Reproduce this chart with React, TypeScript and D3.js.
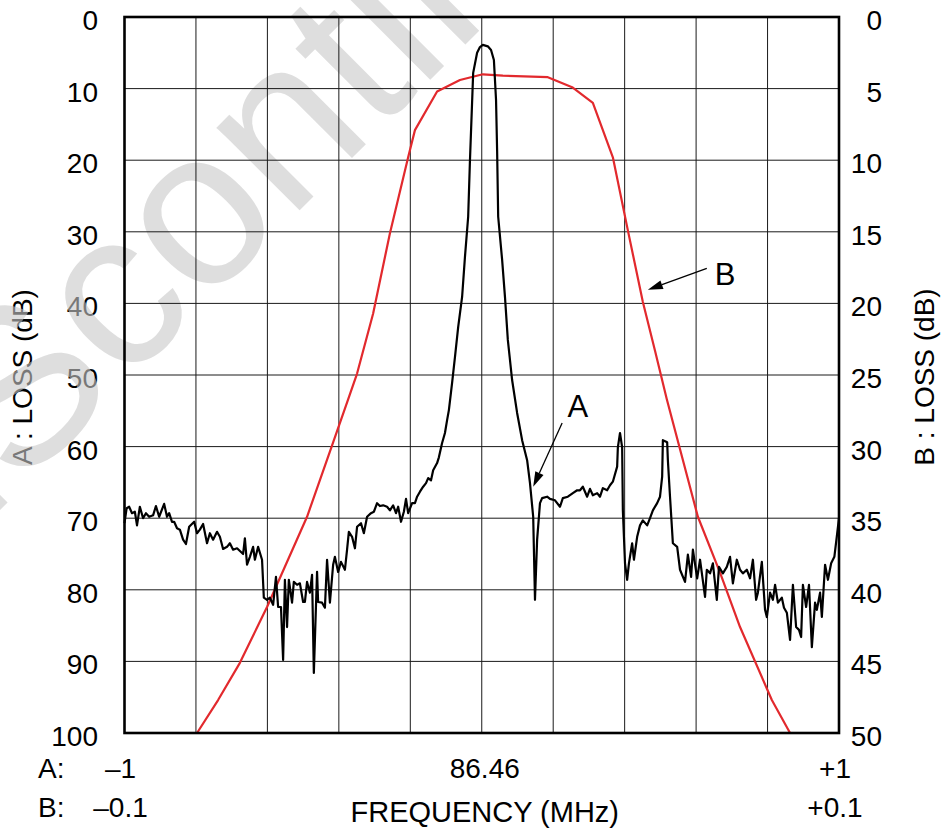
import React, { useEffect, useRef } from 'react';
import * as d3 from 'd3';

// Trace A: frequency offset from 86.46 MHz (A span ±1 MHz) and loss in dB
const freqA = [
  -1.0, -0.994, -0.987, -0.979, -0.971, -0.965, -0.957, -0.948, -0.94, -0.931,
  -0.92, -0.912, -0.903, -0.889, -0.881, -0.875, -0.867, -0.861, -0.853, -0.845,
  -0.836, -0.828, -0.819, -0.805, -0.797, -0.789, -0.78, -0.769, -0.761, -0.752,
  -0.741, -0.733, -0.724, -0.713, -0.705, -0.696, -0.685, -0.668, -0.663, -0.657,
  -0.649, -0.64, -0.635, -0.626, -0.615, -0.61, -0.601, -0.593, -0.584, -0.576,
  -0.57, -0.562, -0.556, -0.551, -0.545, -0.54, -0.531, -0.526, -0.517, -0.509,
  -0.5, -0.495, -0.489, -0.481, -0.475, -0.47, -0.461, -0.458, -0.447, -0.439,
  -0.433, -0.425, -0.416, -0.411, -0.402, -0.394, -0.383, -0.377, -0.372, -0.363,
  -0.355, -0.349, -0.338, -0.33, -0.321, -0.31, -0.302, -0.293, -0.285, -0.276,
  -0.265, -0.257, -0.248, -0.24, -0.234, -0.226, -0.218, -0.212, -0.206, -0.195,
  -0.187, -0.181, -0.173, -0.164, -0.156, -0.15, -0.142, -0.136, -0.125, -0.12,
  -0.111, -0.103, -0.097, -0.092, -0.083, -0.075, -0.066, -0.055, -0.047, -0.038,
  -0.033, -0.024, -0.013, -0.005, 0.003, 0.017, 0.026, 0.034, 0.04, 0.043,
  0.046, 0.057, 0.065, 0.073, 0.085, 0.099, 0.113, 0.127, 0.135, 0.144,
  0.149, 0.155, 0.163, 0.169, 0.183, 0.191, 0.205, 0.219, 0.227, 0.241,
  0.255, 0.267, 0.275, 0.283, 0.295, 0.303, 0.311, 0.323, 0.331, 0.339,
  0.351, 0.359, 0.367, 0.379, 0.381, 0.387, 0.393, 0.395, 0.401, 0.407,
  0.412, 0.421, 0.426, 0.435, 0.443, 0.451, 0.463, 0.471, 0.479, 0.491,
  0.499, 0.505, 0.507, 0.519, 0.521, 0.527, 0.535, 0.547, 0.555, 0.569,
  0.577, 0.586, 0.591, 0.603, 0.611, 0.625, 0.63, 0.639, 0.647, 0.658,
  0.664, 0.675, 0.686, 0.695, 0.703, 0.714, 0.723, 0.731, 0.742, 0.751,
  0.759, 0.768, 0.773, 0.784, 0.793, 0.798, 0.807, 0.815, 0.821, 0.829,
  0.84, 0.846, 0.854, 0.863, 0.871, 0.88, 0.888, 0.894, 0.899, 0.908,
  0.916, 0.924, 0.933, 0.938, 0.947, 0.952, 0.961, 0.969, 0.978, 0.987,
  0.995, 1.0,
];
const lossA = [
  70.7, 68.6, 68.4, 69.3, 69.1, 71.0, 68.4, 70.0, 69.3, 69.8,
  69.6, 68.3, 69.8, 68.0, 69.8, 69.3, 70.5, 70.5, 71.4, 71.6,
  73.0, 73.6, 71.2, 70.5, 72.1, 71.6, 70.8, 73.5, 72.1, 73.0,
  71.9, 72.6, 74.3, 74.0, 73.5, 74.4, 74.2, 75.0, 72.8, 76.5,
  75.4, 74.0, 75.8, 74.0, 75.8, 81.1, 81.4, 81.1, 82.1, 78.2,
  82.4, 82.4, 89.8, 78.6, 85.2, 78.6, 81.8, 78.9, 79.3, 79.1,
  81.7, 81.7, 78.9, 80.4, 77.9, 91.6, 77.5, 81.7, 81.8, 82.5,
  75.8, 81.8, 76.5, 75.4, 77.5, 76.1, 77.2, 74.4, 71.9, 72.6,
  74.2, 71.2, 70.7, 72.1, 69.8, 69.3, 69.1, 67.9, 68.3, 68.2,
  68.4, 68.9, 68.2, 69.3, 68.4, 70.5, 69.1, 67.3, 69.3, 67.9,
  67.9, 67.0, 66.3, 65.6, 65.1, 64.4, 64.7, 63.3, 62.3, 61.5,
  59.5, 58.1, 56.3, 54.9, 51.1, 47.5, 43.3, 39.1, 33.5, 27.9,
  20.0, 7.8, 5.0, 4.2, 3.9, 4.1, 4.6, 6.0, 11.6, 18.6,
  27.9, 33.9, 39.1, 45.1, 50.7, 55.3, 59.1, 61.9, 65.1, 69.8,
  81.4, 73.0, 67.9, 67.2, 67.0, 67.3, 67.5, 68.4, 67.2, 67.0,
  66.5, 66.1, 66.1, 65.6, 67.0, 65.9, 66.8, 66.5, 67.0, 65.8,
  66.1, 65.4, 64.9, 62.8, 60.1, 58.1, 60.1, 68.9, 76.3, 78.6,
  76.3, 73.5, 75.8, 72.6, 71.0, 70.3, 71.0, 70.0, 68.9, 67.9,
  67.0, 64.2, 59.1, 59.4, 61.9, 67.0, 73.5, 74.0, 77.2, 78.9,
  75.1, 78.2, 74.4, 78.4, 75.8, 81.0, 77.2, 77.7, 76.3, 81.4,
  76.8, 77.7, 76.8, 75.4, 79.1, 75.8, 77.2, 77.7, 77.2, 78.4,
  75.8, 81.4, 80.4, 76.1, 82.8, 83.8, 80.4, 81.4, 79.3, 81.8,
  81.1, 82.5, 83.2, 87.0, 79.3, 85.2, 85.6, 86.6, 79.3, 82.4,
  79.3, 88.0, 81.8, 82.8, 80.4, 83.8, 76.5, 78.6, 76.3, 75.4,
  72.1, 70.0,
];

// Trace B: frequency offset (B span ±0.1 MHz) and loss in dB
const freqB = [
  -0.0797, -0.0738, -0.0677, -0.0601, -0.0489, -0.0416, -0.0374, -0.0349, -0.0304, -0.0257,
  -0.0206, -0.0187, -0.0125, -0.0061, 0.0003, 0.0059, 0.0185, 0.0253, 0.0311, 0.0367,
  0.0409, 0.0451, 0.0485, 0.0518, 0.0605, 0.0667, 0.0723, 0.0812, 0.0863,
];
const lossB = [
  50.0, 47.7, 45.1, 41.2, 34.9, 29.7, 26.7, 24.9, 20.7, 15.1,
  9.8, 7.9, 5.2, 4.4, 4.0, 4.1, 4.2, 4.9, 6.0, 9.8,
  14.9, 19.9, 23.3, 26.7, 34.9, 38.8, 42.6, 47.7, 50.0,
];

const ticksA = d3.range(0, 101, 10);
const ticksB = d3.range(0, 51, 5);
const xLabelValues = [-1, 0, 1];
const xLabelsA = ['–1', '86.46', '+1'];
const xLabelsB = ['–0.1', '', '+0.1'];

const FONT = "'Liberation Sans', Arial, Helvetica, sans-serif";
const RED = '#e2292d';

const App: React.FC = () => {
  const ref = useRef<SVGSVGElement>(null);

  useEffect(() => {
    if (!ref.current) return;
    const width = 943;
    const height = 829;
    const left = 124.5, right = 839, top = 17, bottom = 733;

    const svg = d3.select(ref.current).attr('width', width).attr('height', height);
    svg.selectAll('*').remove();

    const x = d3.scaleLinear().domain([-1, 1]).range([left, right]);
    const xB = d3.scaleLinear().domain([-0.1, 0.1]).range([left, right]);
    const yA = d3.scaleLinear().domain([0, 100]).range([top, bottom]);
    const yB = d3.scaleLinear().domain([0, 50]).range([top, bottom]);

    svg.append('rect').attr('width', width).attr('height', height).attr('fill', '#fff');

    const txt = svg.append('g').attr('font-family', FONT).attr('font-size', 28).attr('fill', '#000');

    // left axis labels
    txt.selectAll('.ta').data(ticksA).join('text')
      .attr('x', 98).attr('y', d => yA(d) + 13)
      .attr('text-anchor', 'end').text(d => d);
    // right axis labels
    txt.selectAll('.tb').data(ticksB).join('text')
      .attr('x', 882).attr('y', d => yB(d) + 13)
      .attr('text-anchor', 'end').text(d => d);

    txt.append('text')
      .attr('transform', `translate(32,${(top + bottom) / 2 + 2}) rotate(-90)`)
      .attr('text-anchor', 'middle').text('A : LOSS (dB)');
    txt.append('text')
      .attr('transform', `translate(934,${(top + bottom) / 2 + 2}) rotate(-90)`)
      .attr('text-anchor', 'middle').text('B : LOSS (dB)');

    // x labels, two rows
    const nudge = [-4, 3, -4];
    txt.append('text').attr('x', 38).attr('y', 778).text('A:');
    txt.append('text').attr('x', 38).attr('y', 817).text('B:');
    txt.selectAll('.xa').data(xLabelValues).join('text')
      .attr('x', (d, i) => x(d) + nudge[i]).attr('y', 778)
      .attr('text-anchor', 'middle').text((d, i) => xLabelsA[i]);
    txt.selectAll('.xb').data(xLabelValues).join('text')
      .attr('x', (d, i) => x(d) + nudge[i]).attr('y', 817)
      .attr('text-anchor', 'middle').text((d, i) => xLabelsB[i]);
    txt.append('text').attr('x', x(0) + 3).attr('y', 822)
      .attr('text-anchor', 'middle').attr('font-size', 29).text('FREQUENCY (MHz)');

    // watermark (only "Scontin..." falls on the page), over the labels, under the grid
    svg.append('text')
      .attr('transform', 'translate(-130,640) rotate(-45)')
      .attr('font-family', FONT).attr('font-size', 222)
      .attr('fill', '#c8c8c8').attr('fill-opacity', 0.6)
      .text('DiScontinued');

    // grid
    const grid = svg.append('g').attr('stroke', '#1a1a1a').attr('stroke-width', 1);
    grid.selectAll('.gx').data(d3.range(1, 10)).join('line')
      .attr('x1', d => x(-1 + d * 0.2)).attr('x2', d => x(-1 + d * 0.2))
      .attr('y1', top).attr('y2', bottom);
    grid.selectAll('.gy').data(ticksA.slice(1, -1)).join('line')
      .attr('x1', left).attr('x2', right)
      .attr('y1', d => yA(d)).attr('y2', d => yA(d));

    // traces
    const lineB = d3.line<number>().x((d, i) => xB(freqB[i])).y(d => yB(d));
    svg.append('path').attr('d', lineB(lossB) as string)
      .attr('fill', 'none').attr('stroke', RED).attr('stroke-width', 2.2)
      .attr('stroke-linejoin', 'round');

    const lineA = d3.line<number>().x((d, i) => x(freqA[i])).y(d => yA(d));
    svg.append('path').attr('d', lineA(lossA) as string)
      .attr('fill', 'none').attr('stroke', '#000').attr('stroke-width', 2.2)
      .attr('stroke-linejoin', 'round');

    // frame
    svg.append('rect')
      .attr('x', left).attr('y', top).attr('width', right - left).attr('height', bottom - top)
      .attr('fill', 'none').attr('stroke', '#000').attr('stroke-width', 2.6);

    // annotations
    const arrow = (x1: number, y1: number, x2: number, y2: number) => {
      const ang = Math.atan2(y2 - y1, x2 - x1);
      const len = 15, half = 4.5;
      const bx = x2 - len * Math.cos(ang), by = y2 - len * Math.sin(ang);
      svg.append('line').attr('x1', x1).attr('y1', y1).attr('x2', bx).attr('y2', by)
        .attr('stroke', '#000').attr('stroke-width', 1.3);
      const px = -Math.sin(ang) * half, py = Math.cos(ang) * half;
      svg.append('path')
        .attr('d', `M${x2},${y2}L${bx + px},${by + py}L${bx - px},${by - py}Z`)
        .attr('fill', '#000');
    };
    arrow(x(0.225), yA(56.7), x(0.144), yA(65.6));
    arrow(x(0.63), yA(35.1), x(0.465), yA(38.1));
    const notes = svg.append('g').attr('font-family', FONT).attr('font-size', 31);
    notes.append('text').attr('x', x(0.269)).attr('y', yA(55.9))
      .attr('text-anchor', 'middle').text('A');
    notes.append('text').attr('x', x(0.681)).attr('y', yA(37.4))
      .attr('text-anchor', 'middle').text('B');
  }, []);

  return <svg ref={ref} style={{ position: 'absolute', left: 0, top: 0 }}></svg>;
};

export default App;
